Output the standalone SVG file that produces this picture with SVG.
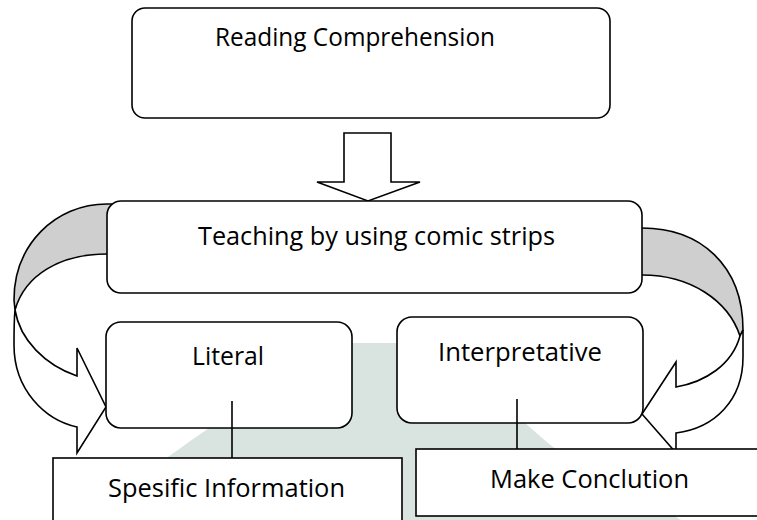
<svg xmlns="http://www.w3.org/2000/svg" width="757" height="520" viewBox="0 0 757 520">
<style>
.box{fill:#fff;stroke:#000;stroke-width:1.6}
.arr{fill:#fff;stroke:#000;stroke-width:1.6;stroke-linejoin:miter}
.back{fill:#cfcfcf;stroke:#000;stroke-width:1.6}
.ln{stroke:#000;stroke-width:1.6;fill:none}
.t{font-family:"Open Sans","Liberation Sans",Arial,sans-serif;font-size:25px;fill:#000}
</style>
<rect width="757" height="520" fill="#fff"/>
<path d="M 115 525 L 168 457 C 220 420 290 370 350 343 L 430 343 C 480 380 520 420 553 447 L 690 525 Z" fill="#d9e3df"/>
<g id="connectors">
<path class="back" d="M 120 204 L 107 204 C 55 204 14 245 14 300 L 15 310 C 25 275 60 254 107 254 L 120 254 Z"/>
<path class="arr" d="M 15 310 C 14 320 14 330 14 345 C 14 390 45 420 77 427 L 77 453 L 106 407 L 77 348 L 77 376 C 45 365 20 340 15 310 Z"/>
<path class="back" d="M 630 228 L 642 228 C 700 228 743 265 743 330 L 740 336 C 728 300 690 275 642 275 L 630 275 Z"/>
<path class="arr" d="M 740 336 L 743 330 C 743 340 743 348 743 357 C 743 400 715 428 676 433 L 676 462 L 684 462 L 642 414 L 676 362 L 676 387 C 705 382 732 365 740 336 Z"/>
<path class="arr" d="M 344 133 L 391 133 L 391 182 L 420 182 L 368 201 L 317 182 L 344 182 Z"/>
</g>
<g id="reading">
<rect class="box" x="132" y="8" width="478" height="110" rx="13"/>
<text class="t" x="215" y="46" textLength="280" lengthAdjust="spacingAndGlyphs">Reading Comprehension</text>
</g>
<g id="teaching">
<rect class="box" x="107" y="201" width="535" height="92" rx="14"/>
<text class="t" x="198" y="245" textLength="357" lengthAdjust="spacingAndGlyphs">Teaching by using comic strips</text>
</g>
<g id="literal">
<rect class="box" x="106" y="322" width="246" height="106" rx="15"/>
<text class="t" x="192" y="365" textLength="72" lengthAdjust="spacingAndGlyphs">Literal</text>
</g>
<g id="interpretative">
<rect class="box" x="397" y="317" width="246" height="106" rx="15"/>
<text class="t" x="438" y="361" textLength="164" lengthAdjust="spacingAndGlyphs">Interpretative</text>
</g>
<g id="spesific">
<rect class="box" x="53" y="458" width="349" height="80"/>
<text class="t" x="108" y="497" textLength="237" lengthAdjust="spacingAndGlyphs">Spesific Information</text>
</g>
<g id="conclution">
<rect class="box" x="416" y="449" width="360" height="67"/>
<text class="t" x="490" y="488" textLength="199" lengthAdjust="spacingAndGlyphs">Make Conclution</text>
</g>
<g id="links">
<line class="ln" x1="232" y1="401" x2="232" y2="458"/>
<line class="ln" x1="517" y1="399" x2="517" y2="449"/>
</g>
</svg>
